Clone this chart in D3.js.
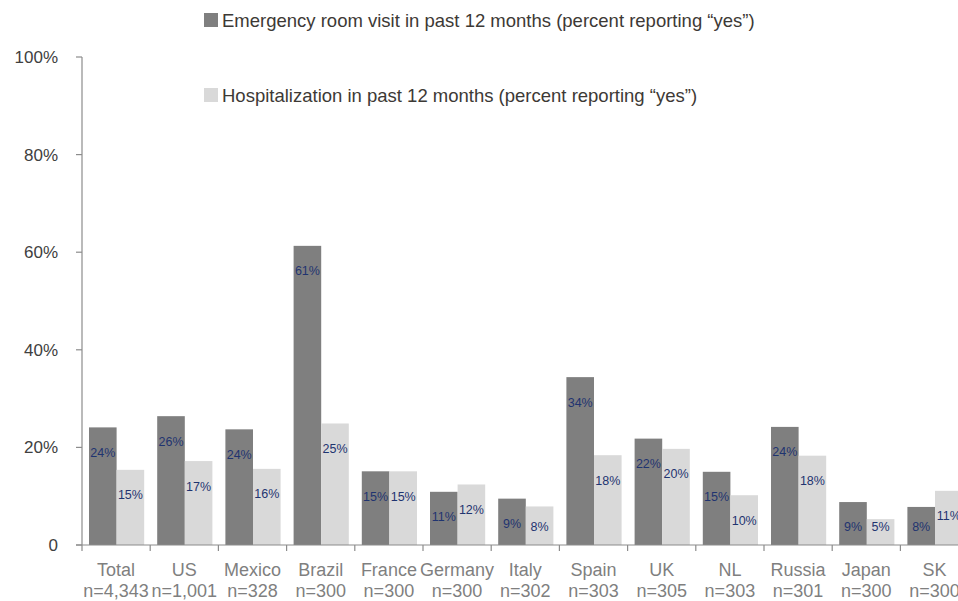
<html>
<head>
<style>
body { margin: 0; background: #fff; }
svg { font-family: "Liberation Sans", Arial, sans-serif; }
.bar-er { fill: #7f7f7f; }
.bar-hosp { fill: #d9d9d9; }
.val { fill: #1f3470; font-size: 12.5px; text-anchor: middle; }
.ylab { fill: #404040; font-size: 17px; text-anchor: end; }
.cat { fill: #7f7f7f; font-size: 18px; text-anchor: middle; }
.leg { fill: #3d3935; font-size: 18.5px; }
.axis-line { stroke: #8c8c8c; stroke-width: 1.2px; }
</style>
</head>
<body>
<script src="https://d3js.org/d3.v7.min.js"></script>
<script>

var countries = ["Total", "US", "Mexico", "Brazil", "France", "Germany", "Italy", "Spain", "UK", "NL", "Russia", "Japan", "SK"]
var sampleSizes = ["n=4,343", "n=1,001", "n=328", "n=300", "n=300", "n=300", "n=302", "n=303", "n=305", "n=303", "n=301", "n=300", "n=300"]
var erValues = [24.1, 26.4, 23.7, 61.3, 15.1, 10.9, 9.5, 34.4, 21.8, 15.0, 24.2, 8.8, 7.8]
var hospValues = [15.4, 17.2, 15.6, 24.9, 15.1, 12.4, 7.9, 18.4, 19.7, 10.2, 18.3, 5.3, 11.1]
var erLabels = ["24%", "26%", "24%", "61%", "15%", "11%", "9%", "34%", "22%", "15%", "24%", "9%", "8%"]
var hospLabels = ["15%", "17%", "16%", "25%", "15%", "12%", "8%", "18%", "20%", "10%", "18%", "5%", "11%"]
var yTicks = [0, 20, 40, 60, 80, 100]
var legendLabels = ["Emergency room visit in past 12 months (percent reporting \u201cyes\u201d)",
                    "Hospitalization in past 12 months (percent reporting \u201cyes\u201d)"]

var width = 958, height = 601
var axisX = 82, axisY = 545, topY = 57
var bandW = 68.2

var svg = d3.select("body").append("svg")
            .attr("width", width)
            .attr("height", height)

var y = d3.scaleLinear().domain([0, 100]).range([axisY, topY])
var x = d3.scaleBand().domain(countries).range([axisX, axisX + bandW * countries.length]).padding(0)
var xs = d3.scaleBand().domain(["er", "hosp"]).range([7, bandW - 6]).padding(0)

// y axis
svg.append("line").attr("class", "axis-line")
   .attr("x1", axisX).attr("x2", axisX).attr("y1", topY).attr("y2", axisY)
svg.selectAll(".ytick").data(yTicks).enter().append("line")
   .attr("class", "axis-line")
   .attr("x1", axisX - 6).attr("x2", axisX)
   .attr("y1", function(d) { return y(d) }).attr("y2", function(d) { return y(d) })
svg.selectAll(".ylab").data(yTicks).enter().append("text")
   .attr("class", "ylab")
   .attr("x", 58)
   .attr("y", function(d) { return y(d) + 6 })
   .text(function(d) { return d === 0 ? "0" : d + "%" })

// bars
var groups = svg.selectAll(".grp").data(countries).enter().append("g")
                .attr("transform", function(d) { return "translate(" + x(d) + ",0)" })

groups.append("rect").attr("class", "bar-er")
      .attr("x", xs("er")).attr("width", xs.bandwidth())
      .attr("y", function(d, i) { return y(erValues[i]) })
      .attr("height", function(d, i) { return axisY - y(erValues[i]) })
groups.append("rect").attr("class", "bar-hosp")
      .attr("x", xs("hosp")).attr("width", xs.bandwidth())
      .attr("y", function(d, i) { return y(hospValues[i]) })
      .attr("height", function(d, i) { return axisY - y(hospValues[i]) })

function labelY(v) { return Math.min(y(v) + 25, 526) + 4.5 }

groups.append("text").attr("class", "val")
      .attr("x", xs("er") + xs.bandwidth() / 2)
      .attr("y", function(d, i) { return labelY(erValues[i]) })
      .text(function(d, i) { return erLabels[i] })
groups.append("text").attr("class", "val")
      .attr("x", xs("hosp") + xs.bandwidth() / 2)
      .attr("y", function(d, i) { return labelY(hospValues[i]) })
      .text(function(d, i) { return hospLabels[i] })

// x axis
svg.append("line").attr("class", "axis-line")
   .attr("x1", axisX - 6).attr("x2", width).attr("y1", axisY).attr("y2", axisY)
groups.append("line").attr("class", "axis-line")
      .attr("x1", 0).attr("x2", 0).attr("y1", axisY).attr("y2", axisY + 6)
groups.append("text").attr("class", "cat")
      .attr("x", bandW / 2).attr("y", 576)
      .text(function(d) { return d })
groups.append("text").attr("class", "cat")
      .attr("x", bandW / 2).attr("y", 597)
      .text(function(d, i) { return sampleSizes[i] })

// legend
var legY = [20, 95]
var legClass = ["bar-er", "bar-hosp"]
legendLabels.forEach(function(t, i) {
	svg.append("rect").attr("class", legClass[i])
	   .attr("x", 204).attr("y", legY[i] - 7).attr("width", 14).attr("height", 14)
	svg.append("text").attr("class", "leg")
	   .attr("x", 222).attr("y", legY[i] + 6.5)
	   .text(t)
})

</script>
</body>
</html>
